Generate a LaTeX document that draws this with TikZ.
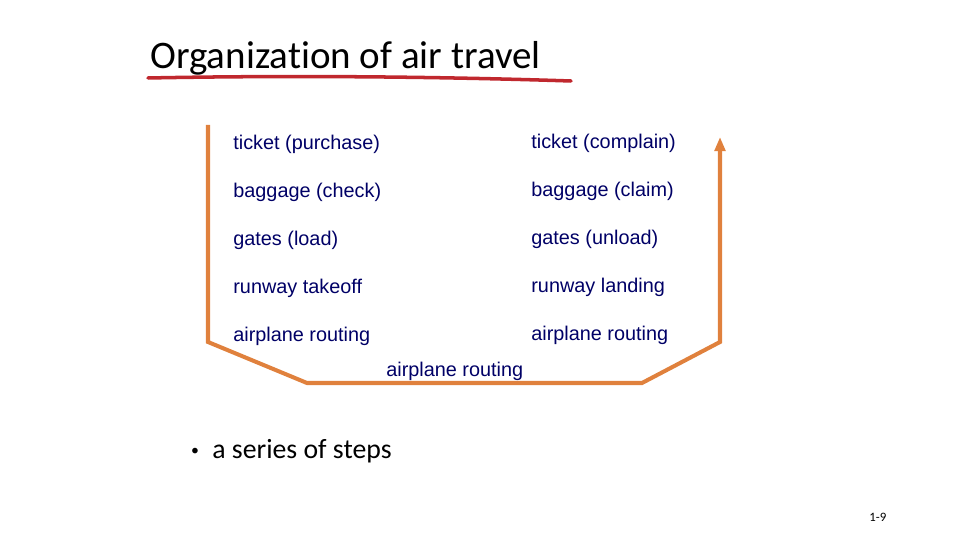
\documentclass[tikz,border=0pt]{standalone}
\usepackage{fontspec}
\setmainfont{Carlito}[Ligatures=NoCommon]
\newfontfamily\arialfont{Liberation Sans}
\usetikzlibrary{arrows.meta,positioning}
\definecolor{atnavy}{HTML}{000066}
\definecolor{atorange}{HTML}{E0813D}
\definecolor{atred}{HTML}{C0282E}
\tikzset{
  step label/.style={anchor=base west,inner sep=0pt,text=atnavy,
                     font=\arialfont\fontsize{11.3}{13}\selectfont},
  route/.style={draw=atorange,line width=2.3pt,line join=miter},
}
\begin{document}
\begin{tikzpicture}[x=0.02cm,y=-0.02cm]
  \useasboundingbox (0,0) rectangle (960,540);
  % title
  \node[anchor=base west,inner sep=0pt,font=\fontsize{22.2}{26}\selectfont] (title) at (150,69) {Organization of air travel};
  \draw[atred,line width=2pt,line cap=round] (148,78) .. controls (300,75) and (450,77) .. (571,81);
  % left column
  \node[step label] (tp) at (233,150) {ticket (purchase)};
  \node[step label] (bc) at (233,198) {baggage (check)};
  \node[step label] (gl) at (233,246) {gates (load)};
  \node[step label] (rt) at (233,294) {runway takeoff};
  \node[step label] (arl) at (233,342) {airplane routing};
  % right column
  \node[step label] (tc) at (531,149) {ticket (complain)};
  \node[step label] (bcl) at (531,197) {baggage (claim)};
  \node[step label] (gu) at (531,245) {gates (unload)};
  \node[step label] (rl) at (531,293) {runway landing};
  \node[step label] (arr) at (531,341) {airplane routing};
  \node[step label] (arm) at (386,377) {airplane routing};
  % route
  \coordinate (start) at (208,125);
  \coordinate (lc) at (208,342);
  \coordinate (lb) at (307,383);
  \coordinate (rb) at (642,383);
  \coordinate (rc) at (720,342);
  \coordinate (stop) at (720,137);
  \draw[route,-{Triangle[length=8pt,width=6pt]}] (start) -- (lc) -- (lb) -- (rb) -- (rc) -- (stop);
  % bullet
  \node[inner sep=0pt,font=\fontsize{9}{11}\selectfont] (dot) at (195,452) {•};
  \node[anchor=base west,inner sep=0pt,font=\fontsize{15.8}{19}\selectfont] (steps) at (212,459) {a series of steps};
  \node[anchor=base west,inner sep=0pt,font=\fontsize{7.3}{9}\selectfont] (pg) at (869,521) {1-9};
\end{tikzpicture}
\end{document}
